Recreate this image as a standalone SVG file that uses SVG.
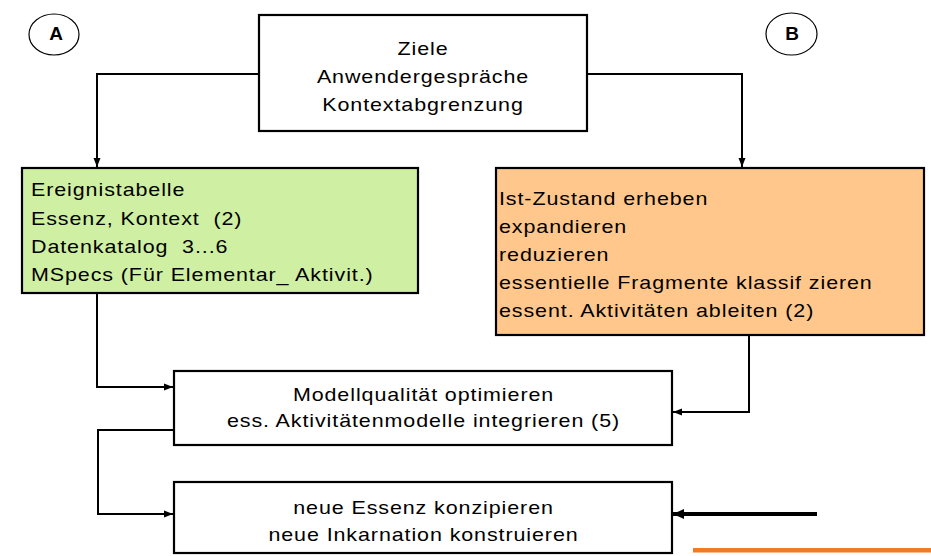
<svg xmlns="http://www.w3.org/2000/svg" width="931" height="556" viewBox="0 0 931 556">
<defs>
<style>
.box{stroke:#000;stroke-width:2.2}
.t{font-family:"Liberation Sans",Arial,sans-serif;font-size:19px;letter-spacing:0.8px;fill:#000}
.c{text-anchor:middle}
.lbl{font-family:"Liberation Sans",Arial,sans-serif;font-size:19px;font-weight:bold;fill:#000;text-anchor:middle}
.ln{fill:none;stroke:#000;stroke-width:2}
</style>
<marker id="ah" markerUnits="userSpaceOnUse" markerWidth="10" markerHeight="10" viewBox="0 0 10 10" refX="9" refY="5" orient="auto">
<path d="M0,1.5 L9,5 L0,8.5 Z" fill="#000"/>
</marker>
<marker id="ahb" markerUnits="userSpaceOnUse" markerWidth="12" markerHeight="12" viewBox="0 0 12 12" refX="11" refY="6" orient="auto">
<path d="M0,1 L11,6 L0,11 Z" fill="#000"/>
</marker>
</defs>
<rect width="931" height="556" fill="#fff"/>

<g id="connectors">
<path class="ln" d="M259,74 H97 V167" marker-end="url(#ah)"/>
<path class="ln" d="M587,74 H742 V167" marker-end="url(#ah)"/>
<path class="ln" d="M97,293 V387 H173" marker-end="url(#ah)"/>
<path class="ln" d="M749,335 V412 H673" marker-end="url(#ah)"/>
<path class="ln" d="M174,430 H98 V514 H173" marker-end="url(#ah)"/>
<path class="ln" d="M817,514 H673" style="stroke-width:4" marker-end="url(#ahb)"/>
</g>

<g id="labelA">
<ellipse cx="54" cy="34.5" rx="25" ry="20.5" fill="none" stroke="#000" stroke-width="1.2"/>
<text class="lbl" x="56" y="40">A</text>
</g>
<g id="labelB">
<ellipse cx="791.5" cy="34" rx="25.5" ry="21" fill="none" stroke="#000" stroke-width="1.2"/>
<text class="lbl" x="792" y="40">B</text>
</g>

<g id="node-top">
<rect class="box" x="259" y="15" width="328" height="116" fill="#fff"/>
<g transform="translate(423 0) scale(1.13 1)">
<text class="t c" x="0" y="55.5">Ziele</text>
<text class="t c" x="0" y="83.5">Anwendergespräche</text>
<text class="t c" x="0" y="111.5">Kontextabgrenzung</text>
</g>
</g>

<g id="node-green">
<rect class="box" x="22" y="168" width="396" height="125" fill="#cff0a2"/>
<g transform="translate(31 0) scale(1.13 1)">
<text class="t" x="0" y="196.5">Ereignistabelle</text>
<text class="t" x="0" y="224.7" xml:space="preserve">Essenz, Kontext  (2)</text>
<text class="t" x="0" y="252.8" xml:space="preserve">Datenkatalog  3...6</text>
<text class="t" x="0" y="281">MSpecs (Für Elementar_ Aktivit.)</text>
</g>
</g>

<g id="node-orange">
<rect class="box" x="496" y="168" width="428" height="167" fill="#ffc78c"/>
<g transform="translate(499 0) scale(1.13 1)">
<text class="t" x="0" y="205">Ist-Zustand erheben</text>
<text class="t" x="0" y="233">expandieren</text>
<text class="t" x="0" y="261">reduzieren</text>
<text class="t" x="0" y="289">essentielle Fragmente klassif zieren</text>
<text class="t" x="0" y="317">essent. Aktivitäten ableiten (2)</text>
</g>
</g>

<g id="node-modell">
<rect class="box" x="174" y="371" width="498" height="74" fill="#fff"/>
<g transform="translate(423.5 0) scale(1.13 1)">
<text class="t c" x="0" y="401">Modellqualität optimieren</text>
<text class="t c" x="0" y="427">ess. Aktivitätenmodelle integrieren (5)</text>
</g>
</g>

<g id="node-bottom">
<rect class="box" x="174" y="482" width="498" height="71" fill="#fff"/>
<g transform="translate(423.5 0) scale(1.13 1)">
<text class="t c" x="0" y="514">neue Essenz konzipieren</text>
<text class="t c" x="0" y="541.5">neue Inkarnation konstruieren</text>
</g>
</g>

<rect id="orange-bar" x="693" y="548" width="238" height="4.5" fill="#f07b22"/>
</svg>
